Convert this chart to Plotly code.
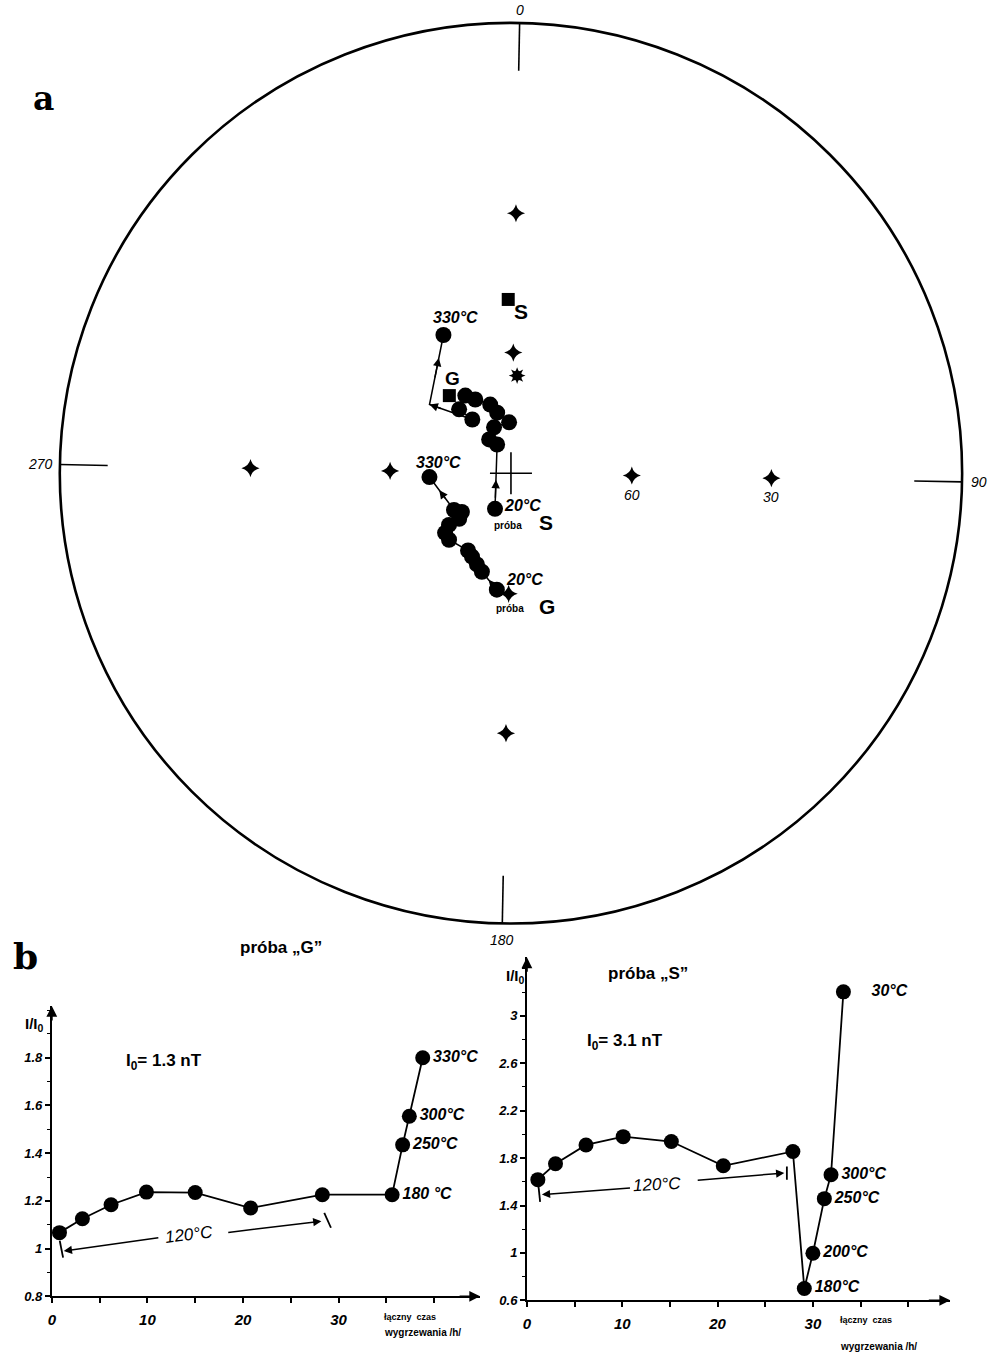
import math
import plotly.graph_objects as go

W, H = 998, 1362

# ---------------- panel a : stereographic net (declination / inclination, deg) ----------------
frame_dec = [0, 90, 180, 270]
frame_labels = ["0", "90", "180", "270"]
grat_dec = [0, 0, 90, 90, 180, 180, 270, 270]
grat_inc = [30, 60, 30, 60, 30, 60, 30, 60]
grat_labels = ["", "", "30", "60", "", "", "", ""]
field_dec = [2.5]
field_inc = [65.5]
ref_dec = [320.5, 358.0]
ref_inc = [65.2, 47.8]
ref_labels = ["G", "S"]

s_dec = [203.0, 333.2, 326.1, 338.7, 356.8, 346.1, 342.1, 333.1, 328.5, 319.9, 323.2, 309.1, 332.9]
s_inc = [80.1, 81.9, 79.8, 77.6, 77.1, 74.3, 71.9, 69.4, 67.4, 69.3, 73.3, 63.4, 52.3]
s_marked = [1, 1, 1, 1, 1, 1, 1, 1, 1, 1, 1, 0, 1]
g_dec = [185.8, 195.3, 199.3, 203.9, 207.9, 221.8, 226.7, 229.0, 227.5, 230.5, 236.0, 266.2]
g_inc = [60.8, 64.3, 65.6, 66.9, 67.8, 67.2, 67.7, 69.7, 72.6, 74.2, 72.9, 69.5]

# ---------------- panel b : I/I0 versus cumulative heating time ----------------
g_hours = [0.8, 3.2, 6.2, 9.9, 15.0, 20.8, 28.3, 35.6, 36.7, 37.4, 38.8]
g_ratio = [1.067, 1.125, 1.184, 1.237, 1.235, 1.17, 1.226, 1.226, 1.435, 1.555, 1.80]
g_labels = ["", "", "", "", "", "", "", "180 °C", "250°C", "300°C", "330°C"]
s_hours = [1.15, 3.0, 6.2, 10.1, 15.15, 20.6, 27.9, 29.1, 30.0, 31.2, 31.9, 33.2]
s_ratio = [1.618, 1.752, 1.911, 1.981, 1.94, 1.735, 1.856, 0.70, 0.997, 1.458, 1.66, 3.203]
s_labels = ["", "", "", "", "", "", "", "180°C", "200°C", "250°C", "300°C", "    30°C"]

g_xticks = [0, 10, 20, 30]
s_xticks = [0, 10, 20, 30]
minor_xticks = [5, 15, 25, 35, 40]
g_yticks = [0.8, 1.0, 1.2, 1.4, 1.6, 1.8]
g_yticktext = ["0.8", "1", "1.2", "1.4", "1.6", "1.8"]
s_yticks = [0.6, 1.0, 1.4, 1.8, 2.2, 2.6, 3.0]
s_yticktext = ["0.6", "1", "1.4", "1.8", "2.2", "2.6", "3"]

# 120 °C bracket (bars and arrows) in data units
g_bar_x = [0.83, 1.18, None, 28.5, 29.2]
g_bar_y = [1.033, 0.962, None, 1.15, 1.0875]
g_arrows = [((1.25, 0.99), (11.3, 1.046)), ((28.2, 1.115), (18.3, 1.067))]
g_br_text = (14.4, 1.058, -7)
s_bar_x = [1.22, 1.39, None, 27.27, 27.27]
s_bar_y = [1.56, 1.43, None, 1.73, 1.618]
s_arrows = [((1.57, 1.492), (10.97, 1.548)), ((27.0, 1.674), (17.76, 1.613))]
s_br_text = (13.65, 1.578, -3)

# ---------------- geometry ----------------
NET_ROT = 1.1          # scan rotation of the net, deg
CX, CY, R = 509, 476, 453   # net centre / radius in page pixels
NET_BOTTOM = 950


def plane(dec, r):
    a = math.radians(dec + NET_ROT)
    return r * math.sin(a), r * math.cos(a)


def project(dec, inc):
    return plane(dec, math.tan(math.radians(90 - inc) / 2))


def proj_list(decs, incs):
    pts = [project(d, i) for d, i in zip(decs, incs)]
    return [p[0] for p in pts], [p[1] for p in pts]


def fx(px):
    return px / W


def fy(py):
    return 1 - py / H


def only_labelled(xs, ys, labels):
    keep = [i for i, t in enumerate(labels) if t]
    return [xs[i] for i in keep], [ys[i] for i in keep], [labels[i] for i in keep]


BLACK = "black"
CLEAR = "rgba(0,0,0,0)"
FONT = "Liberation Sans"
fig = go.Figure()
ann = []

# frame circle
fig.add_shape(type="circle", xref="x", yref="y", x0=-1, y0=-1, x1=1, y1=1,
              line=dict(color=BLACK, width=2.6))

# frame ticks
tx, ty = [], []
for d in frame_dec:
    x0, y0 = plane(d, 0.894)
    x1, y1 = plane(d, 1.0)
    tx += [x0, x1, None]
    ty += [y0, y1, None]
fig.add_trace(go.Scatter(x=tx, y=ty, mode="lines", line=dict(color=BLACK, width=1.6),
                         xaxis="x", yaxis="y", hoverinfo="skip"))
anchors = {"0": ("center", "bottom", 1.006), "90": ("left", "middle", 1.016),
           "180": ("center", "top", 1.014), "270": ("right", "middle", 1.011)}
for d, lab in zip(frame_dec, frame_labels):
    xa, ya, rr = anchors[lab]
    x, y = plane(d, rr)
    ann.append(dict(x=x, y=y, xref="x", yref="y", text=lab, showarrow=False,
                    xanchor=xa, yanchor=ya,
                    font=dict(family=FONT, size=14, color=BLACK, style="italic")))

# graticule marks
gx, gy = proj_list(grat_dec, grat_inc)
fig.add_trace(go.Scatter(x=gx, y=gy, mode="markers",
                         marker=dict(symbol="star-diamond", size=13, color=BLACK),
                         xaxis="x", yaxis="y", hoverinfo="skip"))
lx, ly, lt = only_labelled(gx, gy, grat_labels)
for x, y, t in zip(lx, ly, lt):
    ann.append(dict(x=x, y=y, xref="x", yref="y", text=t, showarrow=False, yshift=-19,
                    xanchor="center", yanchor="middle",
                    font=dict(family=FONT, size=14, color=BLACK, style="italic")))
# field direction (8-point star)
fdx, fdy = proj_list(field_dec, field_inc)
for sym, sz in (("star-square", 11), ("star-diamond", 12)):
    fig.add_trace(go.Scatter(x=fdx, y=fdy, mode="markers",
                             marker=dict(symbol=sym, size=sz, color=BLACK),
                             xaxis="x", yaxis="y", hoverinfo="skip"))
# centre cross
fig.add_trace(go.Scatter(x=[0], y=[0], mode="markers",
                         marker=dict(symbol="cross-thin", size=30, line=dict(color=BLACK, width=1.6)),
                         xaxis="x", yaxis="y", hoverinfo="skip"))
# reference squares
rx, ry = proj_list(ref_dec, ref_inc)
fig.add_trace(go.Scatter(x=rx, y=ry, mode="markers",
                         marker=dict(symbol="square", size=13, color=BLACK),
                         xaxis="x", yaxis="y", hoverinfo="skip"))
ref_offsets = {"G": (3, 17, 19), "S": (13, -12, 21)}
for x, y, lab in zip(rx, ry, ref_labels):
    dx, dy, sz = ref_offsets[lab]
    ann.append(dict(x=x, y=y, xref="x", yref="y", text="<b>%s</b>" % lab, showarrow=False,
                    xshift=dx, yshift=dy, xanchor="center", yanchor="middle",
                    font=dict(family=FONT, size=sz, color=BLACK)))

# demagnetisation paths
sx, sy = proj_list(s_dec, s_inc)
gx2, gy2 = proj_list(g_dec, g_inc)
fig.add_trace(go.Scatter(x=sx, y=sy, mode="lines", line=dict(color=BLACK, width=1.5),
                         xaxis="x", yaxis="y", hoverinfo="skip"))
fig.add_trace(go.Scatter(x=[v for v, m in zip(sx, s_marked) if m],
                         y=[v for v, m in zip(sy, s_marked) if m],
                         mode="markers", marker=dict(symbol="circle", size=16, color=BLACK),
                         xaxis="x", yaxis="y", hoverinfo="skip"))
fig.add_trace(go.Scatter(x=gx2, y=gy2, mode="lines+markers", line=dict(color=BLACK, width=1.5),
                         marker=dict(symbol="circle", size=16, color=BLACK),
                         xaxis="x", yaxis="y", hoverinfo="skip"))


def seg_arrow(xs, ys, i, f, axn="x", ayn="y"):
    hx = xs[i] + f * (xs[i + 1] - xs[i])
    hy = ys[i] + f * (ys[i + 1] - ys[i])
    tx_ = xs[i] + (f - 0.3) * (xs[i + 1] - xs[i])
    ty_ = ys[i] + (f - 0.3) * (ys[i + 1] - ys[i])
    return dict(x=hx, y=hy, ax=tx_, ay=ty_, xref=axn, yref=ayn, axref=axn, ayref=ayn,
                showarrow=True, arrowhead=2, arrowsize=1.2, arrowwidth=1.4,
                arrowcolor=BLACK, text="")


ann.append(seg_arrow(sx, sy, 0, 0.45))
ann.append(seg_arrow(sx, sy, 10, 1.0))
ann.append(seg_arrow(sx, sy, 11, 0.67))
ann.append(seg_arrow(gx2, gy2, 0, 0.55))
ann.append(seg_arrow(gx2, gy2, 10, 0.6))


def lab_at(x, y, text, dx, dy, size, bold=True, italic=True):
    t = "<b>%s</b>" % text if bold else text
    return dict(x=x, y=y, xref="x", yref="y", text=t, showarrow=False, xshift=dx, yshift=dy,
                xanchor="center", yanchor="middle",
                font=dict(family=FONT, size=size, color=BLACK,
                          style="italic" if italic else "normal"))


ann.append(lab_at(sx[-1], sy[-1], "330°C", 12, 18, 16))
ann.append(lab_at(sx[0], sy[0], "20°C", 27, 3, 16))
ann.append(lab_at(sx[0], sy[0], "S", 51, -14, 21, italic=False))
ann.append(lab_at(sx[0], sy[0], "próba", 13, -17, 10, italic=False))
ann.append(lab_at(gx2[-1], gy2[-1], "330°C", 9, 15, 16))
ann.append(lab_at(gx2[0], gy2[0], "20°C", 28, 10, 16))
ann.append(lab_at(gx2[0], gy2[0], "G", 50, -17, 21, italic=False))
ann.append(lab_at(gx2[0], gy2[0], "próba", 13, -19, 10, italic=False))

# panel letters
ann.append(dict(x=fx(40), y=fy(99), xref="paper", yref="paper", text="<b>a</b>", showarrow=False,
                xanchor="center", yanchor="middle",
                font=dict(family="DejaVu Serif", size=33, color=BLACK)))
ann.append(dict(x=fx(22), y=fy(962), xref="paper", yref="paper", text="<b>b</b>", showarrow=False,
                xanchor="center", yanchor="middle",
                font=dict(family="DejaVu Serif", size=36, color=BLACK)))

# ---------------- panel b traces ----------------
TICKF = dict(family=FONT, size=13, color=BLACK, style="italic", weight="bold")
LABF = dict(family=FONT, size=16, color=BLACK, style="italic", weight="bold")
for hrs, rat, labs, axn in ((g_hours, g_ratio, g_labels, "2"), (s_hours, s_ratio, s_labels, "3")):
    fig.add_trace(go.Scatter(x=hrs, y=rat, mode="lines+markers",
                             line=dict(color=BLACK, width=1.8),
                             marker=dict(symbol="circle", size=15, color=BLACK),
                             xaxis="x" + axn, yaxis="y" + axn, cliponaxis=False, hoverinfo="skip"))
    lx, ly, lt = only_labelled(hrs, rat, labs)
    fig.add_trace(go.Scatter(x=lx, y=ly, mode="markers+text", text=lt, textposition="middle right",
                             textfont=LABF, marker=dict(size=15, color=CLEAR),
                             xaxis="x" + axn, yaxis="y" + axn,
                             cliponaxis=False, hoverinfo="skip"))
for bx, by, axn in ((g_bar_x, g_bar_y, "2"), (s_bar_x, s_bar_y, "3")):
    fig.add_trace(go.Scatter(x=bx, y=by, mode="lines", line=dict(color=BLACK, width=1.8),
                             xaxis="x" + axn, yaxis="y" + axn, cliponaxis=False, hoverinfo="skip"))
for arrows, (tx0, ty0, tang), axn in ((g_arrows, g_br_text, "2"), (s_arrows, s_br_text, "3")):
    for (hx, hy), (tlx, tly) in arrows:
        ann.append(dict(x=hx, y=hy, ax=tlx, ay=tly, xref="x" + axn, yref="y" + axn,
                        axref="x" + axn, ayref="y" + axn, showarrow=True, arrowhead=2,
                        arrowsize=1.1, arrowwidth=1.5, arrowcolor=BLACK, text=""))
    ann.append(dict(x=tx0, y=ty0, xref="x" + axn, yref="y" + axn, text="120°C", showarrow=False,
                    textangle=tang, xanchor="center", yanchor="middle",
                    font=dict(family=FONT, size=17, color=BLACK, style="italic")))

# axis end arrows
for xe, ye, axe, aye, axn in ((44.8, 0.8, 42.5, 0.8, "2"), (0, 2.0167, 0, 1.95, "2"),
                              (44.4, 0.6, 42.0, 0.6, "3"), (0, 3.494, 0, 3.36, "3")):
    ann.append(dict(x=xe, y=ye, ax=axe, ay=aye, xref="x" + axn, yref="y" + axn,
                    axref="x" + axn, ayref="y" + axn, showarrow=True, arrowhead=2,
                    arrowsize=1.2, arrowwidth=1.8, arrowcolor=BLACK, text=""))


# panel b texts
def ptext(px, py, text, size, xanchor="center", italic=False):
    return dict(x=fx(px), y=fy(py), xref="paper", yref="paper", text=text, showarrow=False,
                xanchor=xanchor, yanchor="middle",
                font=dict(family=FONT, size=size, color=BLACK,
                          style="italic" if italic else "normal"))


ann.append(ptext(278, 953, "<b>próba „G”</b>", 17))
ann.append(ptext(647, 979, "<b>próba „S”</b>", 17))
ann.append(ptext(161, 1068, "<b>I<sub>0</sub>= 1.3 nT</b>", 17))
ann.append(ptext(623, 1048, "<b>I<sub>0</sub>= 3.1 nT</b>", 17))
ann.append(ptext(31, 1031, "<b>I/I<sub>0</sub></b>", 15))
ann.append(ptext(514, 982, "<b>I/I<sub>0</sub></b>", 15))
ann.append(ptext(380, 1325, "<b>łączny  czas</b>", 9, xanchor="left"))
ann.append(ptext(380, 1340, "<b>wygrzewania /h/</b>", 10, xanchor="left"))
ann.append(ptext(837, 1328, "<b>łączny  czas</b>", 9, xanchor="left"))
ann.append(ptext(837, 1354, "<b>wygrzewania /h/</b>", 10, xanchor="left"))

# ---------------- layout ----------------
hidden = dict(visible=False, showgrid=False, zeroline=False, showticklabels=False, fixedrange=True)
common_b = dict(showgrid=False, zeroline=False, showline=True, linecolor=BLACK, linewidth=1.8,
                ticks="outside", ticklen=5, tickwidth=1.5, tickcolor=BLACK, tickfont=TICKF,
                fixedrange=True)
fig.update_layout(
    width=W, height=H, margin=dict(l=0, r=0, t=0, b=0),
    paper_bgcolor="white", plot_bgcolor="white", showlegend=False,
    xaxis=dict(domain=[0, 1], range=[-CX / R, (W - CX) / R], anchor="y", **hidden),
    yaxis=dict(domain=[fy(NET_BOTTOM), 1], range=[(CY - NET_BOTTOM) / R, CY / R], anchor="x", **hidden),
    xaxis2=dict(domain=[fx(48), fx(478)], range=[0, 44.8], anchor="y2",
                tickmode="array", tickvals=g_xticks, ticktext=[str(v) for v in g_xticks],
                minor=dict(tickmode="array", tickvals=minor_xticks, ticks="outside", ticklen=5,
                           tickwidth=1.5, tickcolor=BLACK),
                ticklabelstandoff=4, **{**common_b, "tickfont": dict(TICKF, size=15)}),
    yaxis2=dict(domain=[fy(1304), fy(1012)], range=[0.8, 2.0167], anchor="x2",
                tickmode="array", tickvals=g_yticks, ticktext=g_yticktext,
                minor=dict(tickmode="linear", tick0=0.8, dtick=0.1, ticks="outside", ticklen=3,
                           tickwidth=1.2, tickcolor=BLACK),
                **common_b),
    xaxis3=dict(domain=[fx(525), fx(950)], range=[0, 44.4], anchor="y3",
                tickmode="array", tickvals=s_xticks, ticktext=[str(v) for v in s_xticks],
                minor=dict(tickmode="array", tickvals=minor_xticks, ticks="outside", ticklen=5,
                           tickwidth=1.5, tickcolor=BLACK),
                ticklabelstandoff=4, **{**common_b, "tickfont": dict(TICKF, size=15)}),
    yaxis3=dict(domain=[fy(1308), fy(963)], range=[0.6, 3.494], anchor="x3",
                tickmode="array", tickvals=s_yticks, ticktext=s_yticktext,
                minor=dict(tickmode="linear", tick0=0.6, dtick=0.2, ticks="outside", ticklen=3,
                           tickwidth=1.2, tickcolor=BLACK),
                **common_b),
    annotations=ann,
)

fig.write_html("out.html")
